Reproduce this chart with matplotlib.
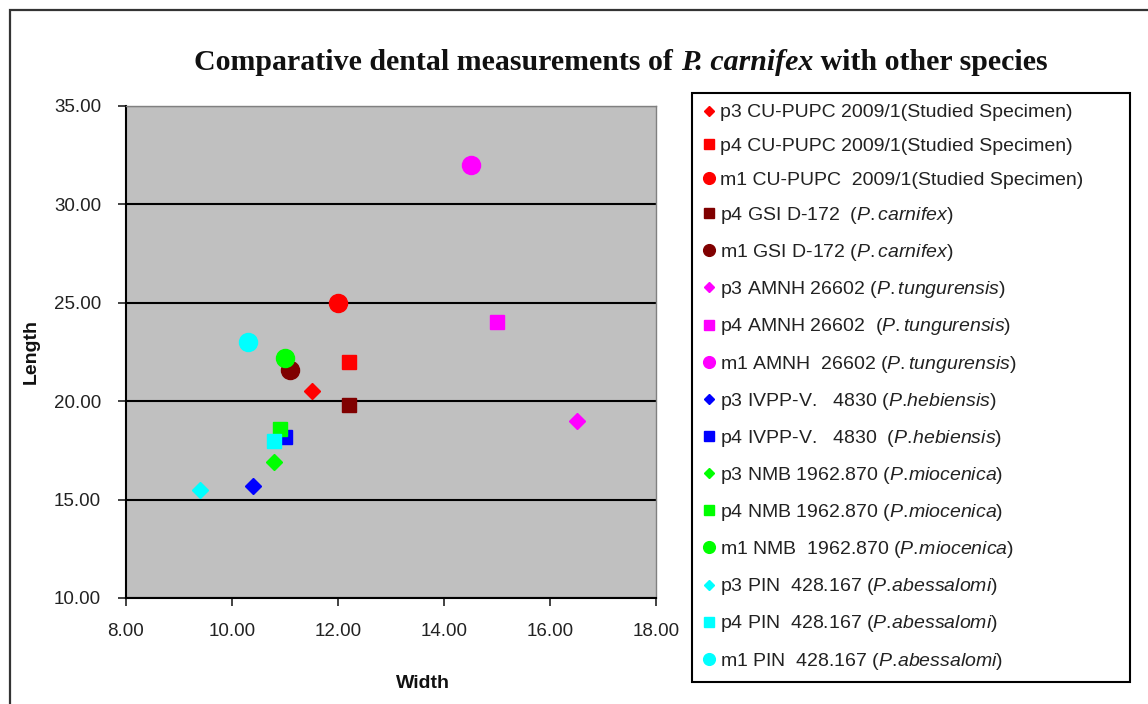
import matplotlib
matplotlib.use("Agg")
import matplotlib.pyplot as plt
from matplotlib.patches import Rectangle

plt.rcParams['font.family'] = ['Liberation Sans', 'DejaVu Sans']
plt.rcParams['mathtext.fontset'] = 'custom'
plt.rcParams['mathtext.rm'] = 'Liberation Sans'
plt.rcParams['mathtext.it'] = 'Liberation Sans:italic'

# data
teeth = ["p3", "p4", "m1", "p4", "m1", "p3", "p4", "m1",
         "p3", "p4", "p3", "p4", "m1", "p3", "p4", "m1"]
specimens = ["CU-PUPC 2009/1", "CU-PUPC 2009/1", "CU-PUPC  2009/1",
             "GSI D-172 ", "GSI D-172", "AMNH 26602", "AMNH 26602 ", "AMNH  26602",
             "IVPP-V.   4830", "IVPP-V.   4830 ", "NMB 1962.870", "NMB 1962.870",
             "NMB  1962.870", "PIN  428.167", "PIN  428.167", "PIN  428.167"]
species = ["Studied Specimen", "Studied Specimen", "Studied Specimen",
           "P. carnifex", "P. carnifex", "P. tungurensis", "P. tungurensis",
           "P. tungurensis", "P.hebiensis", "P.hebiensis", "P.miocenica",
           "P.miocenica", "P.miocenica", "P.abessalomi", "P.abessalomi",
           "P.abessalomi"]
width = [11.5, 12.2, 12.0, 12.2, 11.1, 16.5, 15.0, 14.5,
         10.4, 11.0, 10.8, 10.9, 11.0, 9.4, 10.8, 10.3]
length = [20.5, 22.0, 25.0, 19.8, 21.6, 19.0, 24.0, 32.0,
          15.7, 18.2, 16.9, 18.6, 22.2, 15.5, 18.0, 23.0]

x_ticks = [8, 10, 12, 14, 16, 18]
y_ticks = [10, 15, 20, 25, 30, 35]

# styles
colors = ["#FF0000"] * 3 + ["#800000"] * 2 + ["#FF00FF"] * 3 + ["#0000FF"] * 2 \
    + ["#00FF00"] * 3 + ["#00FFFF"] * 3
shapes = {"p3": ("D", 8.5), "p4": ("s", 10.5), "m1": ("o", 13)}


def italic(name):
    # mathtext puts a small space after "." by itself
    if ". " in name:
        name = name.replace(". ", ".")
    else:
        name = name.replace(".", r".\!")
    return r"$\mathit{" + name + "}$"


W, H = 1148, 704
fig = plt.figure(figsize=(W / 100, H / 100), dpi=100)
fig.patch.set_facecolor("white")
fig.patches.append(Rectangle((10 / W, -0.05), 1.1, 1.05 - 10 / H, transform=fig.transFigure,
                             fill=False, edgecolor="#333333", linewidth=1.6))

ax = fig.add_axes([126 / W, (H - 598) / H, 530 / W, 492 / H])
ax.set_facecolor("#C0C0C0")

for i in range(len(width)):
    m, ms = shapes[teeth[i]]
    if species[i] == "Studied Specimen":
        lab = f"{teeth[i]} {specimens[i]}(Studied Specimen)"
    else:
        lab = f"{teeth[i]} {specimens[i]} (" + italic(species[i]) + ")"
    ax.plot(width[i], length[i], linestyle="none", marker=m, markersize=ms,
            color=colors[i], label=lab)

ax.set_xlim(8, 18)
ax.set_ylim(10, 35)
ax.set_xticks(x_ticks)
ax.set_yticks(y_ticks)
ax.set_xticklabels([f"{t:.2f}" for t in x_ticks])
ax.set_yticklabels([f"{t:.2f}" for t in y_ticks])
ax.tick_params(labelsize=13.5, length=6, width=1.2, colors="#222222", pad=12)
ax.yaxis.grid(True, color="black", linewidth=1.5)
ax.set_axisbelow(True)
for s in ["left", "bottom"]:
    ax.spines[s].set_color("black")
    ax.spines[s].set_linewidth(1.5)
for s in ["top", "right"]:
    ax.spines[s].set_color("#808080")
    ax.spines[s].set_linewidth(1.0)

ax.set_xlabel("Width", fontsize=14, fontweight="bold", color="#111111")
ax.xaxis.set_label_coords((423 - 126) / 530, -(675 - 598) / 492)
ax.set_ylabel("Length", fontsize=14, fontweight="bold", color="#111111")
ax.yaxis.set_label_coords(-(126 - 40) / 530, 0.5)

leg = ax.legend(loc="upper left",
                bbox_to_anchor=(692 / W, 1 - 683 / H, 438 / W, 590 / H),
                bbox_transform=fig.transFigure, borderaxespad=0, mode="expand",
                fontsize=14, labelspacing=0.83, handlelength=0.6,
                handletextpad=0.3, markerscale=0.65, fancybox=False,
                edgecolor="black", framealpha=1, borderpad=0.55)
leg.get_frame().set_linewidth(1.5)
for t in leg.get_texts():
    t.set_color("#222222")

# title in three pieces so the species name is italic
renderer = fig.canvas.get_renderer()
parts = [("Comparative dental measurements of ", "normal"),
         ("P. carnifex", "italic"),
         (" with other species", "normal")]
texts = []
for s, st in parts:
    texts.append(fig.text(0, 1 - 62 / H, s, fontsize=21.5, fontweight="bold",
                          fontstyle=st, family="Liberation Serif",
                          va="center", color="#111111"))
widths = [t.get_window_extent(renderer).width for t in texts]
x0 = 621 - sum(widths) / 2
for t, w in zip(texts, widths):
    t.set_x(x0 / W)
    x0 += w

fig.savefig("out.png", dpi=100)
